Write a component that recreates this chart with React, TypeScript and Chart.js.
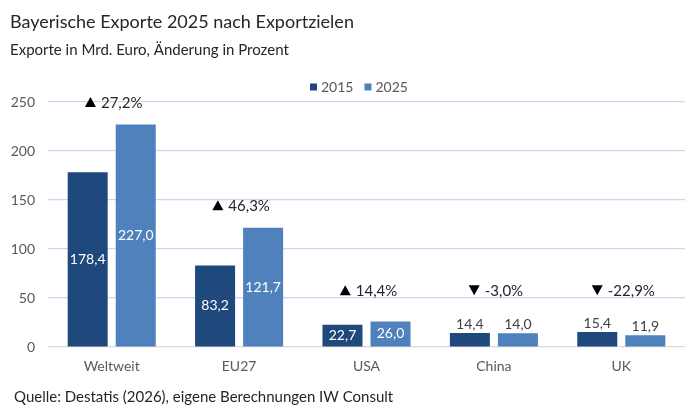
import React, { useEffect, useRef } from "react";
import { Chart, registerables } from "chart.js";

Chart.register(...registerables);

const categories = ["Weltweit", "EU27", "USA", "China", "UK"];
const values2015 = [178.4, 83.2, 22.7, 14.4, 15.4];
const values2025 = [227.0, 121.7, 26.0, 14.0, 11.9];
const changes = [27.2, 46.3, 14.4, -3.0, -22.9];
const seriesLabels = ["2015", "2025"];
const yMax = 250;
const yStep = 50;

const titleText = "Bayerische Exporte 2025 nach Exportzielen";
const subtitleText = "Exporte in Mrd. Euro, Änderung in Prozent";
const sourceText = "Quelle: Destatis (2026), eigene Berechnungen IW Consult";

const FONT = "Lato, 'Noto Sans', sans-serif";
const COLORS = ["#1F497D", "#4F81BD"];

const fmt = (v: number) => v.toFixed(1).replace(".", ",");

const overlayPlugin = {
  id: "overlay",
  afterDatasetsDraw(chart: any) {
    const ctx = chart.ctx;
    const y = chart.scales.y;
    ctx.save();
    // bar value labels
    chart.data.datasets.forEach((ds: any, di: number) => {
      const meta = chart.getDatasetMeta(di);
      meta.data.forEach((bar: any, i: number) => {
        const v = ds.data[i];
        ctx.font = `14px ${FONT}`;
        ctx.textAlign = "center";
        if (v >= 20) {
          ctx.fillStyle = "#FFFFFF";
          ctx.textBaseline = "middle";
          ctx.fillText(fmt(v), bar.x, (bar.y + bar.base) / 2);
        } else {
          ctx.fillStyle = "#404040";
          ctx.textBaseline = "alphabetic";
          ctx.fillText(fmt(v), bar.x, bar.y - 4);
        }
      });
    });
    // change annotations
    const xs = chart.scales.x;
    changes.forEach((c, i) => {
      const maxVal = Math.max(values2015[i], values2025[i]);
      const py = y.getPixelForValue(Math.max(maxVal + 23, 58));
      const cx = xs.getPixelForValue(i) + 2;
      const label = `${fmt(c)}%`;
      ctx.font = `15px ${FONT}`;
      const tw = ctx.measureText(label).width;
      const triW = 11;
      const gap = 5;
      const total = triW + gap + tw;
      const left = cx - total / 2;
      ctx.fillStyle = "#000000";
      ctx.beginPath();
      if (c >= 0) {
        ctx.moveTo(left, py + 5);
        ctx.lineTo(left + triW, py + 5);
        ctx.lineTo(left + triW / 2, py - 5);
      } else {
        ctx.moveTo(left, py - 5);
        ctx.lineTo(left + triW, py - 5);
        ctx.lineTo(left + triW / 2, py + 5);
      }
      ctx.closePath();
      ctx.fill();
      ctx.fillStyle = "#262626";
      ctx.textAlign = "left";
      ctx.textBaseline = "middle";
      ctx.fillText(label, left + triW + gap, py + 1);
    });
    ctx.restore();
  },
  afterDraw(chart: any) {
    const ctx = chart.ctx;
    ctx.save();
    ctx.textAlign = "left";
    ctx.textBaseline = "alphabetic";
    ctx.fillStyle = "#262626";
    ctx.font = `18px ${FONT}`;
    ctx.fillText(titleText, 10, 28);
    ctx.font = `15px ${FONT}`;
    ctx.fillText(subtitleText, 10, 55);
    ctx.fillText(sourceText, 14, 402);
    // legend
    ctx.font = `14px ${FONT}`;
    ctx.textBaseline = "middle";
    let lx = 310;
    const ly = 87;
    seriesLabels.forEach((s, i) => {
      ctx.fillStyle = COLORS[i];
      ctx.fillRect(lx, ly - 3.5, 7, 7);
      ctx.fillStyle = "#595959";
      ctx.fillText(s, lx + 11, ly);
      lx += 11 + ctx.measureText(s).width + 11;
    });
    ctx.restore();
  },
};

export default function App() {
  const ref = useRef<HTMLCanvasElement>(null);
  useEffect(() => {
    document.body.style.margin = "0";
    const chart = new Chart(ref.current!, {
      type: "bar",
      data: {
        labels: categories,
        datasets: [
          { label: seriesLabels[0], data: values2015, backgroundColor: COLORS[0] },
          { label: seriesLabels[1], data: values2025, backgroundColor: COLORS[1] },
        ],
      },
      options: {
        animation: false,
        responsive: true,
        maintainAspectRatio: false,
        layout: { padding: { top: 102, right: 15, left: 0, bottom: 0 } },
        datasets: {
          bar: { categoryPercentage: 0.754, barPercentage: 0.833 },
        },
        plugins: {
          legend: { display: false },
          title: { display: false },
          tooltip: { enabled: false },
        },
        scales: {
          x: {
            grid: { display: false },
            border: { display: false },
            ticks: {
              color: "#595959",
              font: { family: FONT, size: 14 },
              padding: 3,
            },
            afterFit: (s: any) => {
              s.height = 69;
            },
          },
          y: {
            min: 0,
            max: yMax,
            border: { display: false },
            grid: {
              drawTicks: false,
              color: (c: any) => (c.tick && c.tick.value === 0 ? "#D9D9D9" : "#C6D9F1"),
              lineWidth: 1.2,
            },
            ticks: {
              stepSize: yStep,
              color: "#595959",
              font: { family: FONT, size: 14 },
              padding: 13,
            },
            afterFit: (s: any) => {
              s.width = 48;
            },
          },
        },
      },
      plugins: [overlayPlugin],
    });
    return () => chart.destroy();
  }, []);
  return (
    <div style={{ width: 700, height: 416, position: "relative", background: "#fff" }}>
      <canvas ref={ref} />
    </div>
  );
}
